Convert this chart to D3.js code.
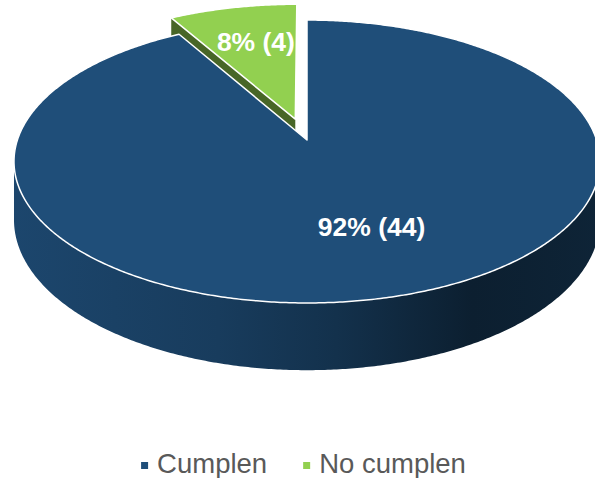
<!DOCTYPE html>
<html>
<head>
<meta charset="utf-8">
<script src="https://cdn.jsdelivr.net/npm/d3@7"></script>
<style>
  body { margin: 0; background: #fff; }
  svg { display: block; }
</style>
</head>
<body>
<div id="chart"></div>
<script>
////////////////////////////  Data  ////////////////////////////
const categories = ["Cumplen", "No cumplen"];
const counts = [44, 4];

// style / layout
const colors = ["#1F4E79", "#92D050"];
const explode = [0, 0.16]; // radial offset, fraction of radius
const labelNudge = [-4.5, 1.3]; // degrees, label angle tweak
const labelRadius = [0.61, 0.66];

const width = 595;
const height = 478;

// perspective "camera"
const cx = 307, cy = 140;   // projected pie centre
const R = 289.6, RY = 138.2; // horizontal / vertical radius
const P = 0.152;             // perspective strength
const DEPTH = 57;            // thickness

const svg = d3.select("#chart").append("svg")
  .attr("width", width)
  .attr("height", height);

const defs = svg.append("defs");

const total = d3.sum(counts);
const data = categories.map((c, i) => ({ name: c, value: counts[i], i }));

const pie = d3.pie().sort(null).value((d) => d.value);
const arcs = pie(data);

// project disk coords (u right, v toward viewer), h = 0 top / 1 bottom
function proj(u, v, h) {
  const s = 1 / (1 - P * v);
  return [cx + R * u * s, cy + RY * v * s + h * DEPTH * s];
}
function rim(a, r, o, h) {
  return proj(o[0] + r * Math.sin(a), o[1] - r * Math.cos(a), h);
}
function samples(a0, a1) {
  const n = Math.max(2, Math.ceil(Math.abs(a1 - a0) / (Math.PI / 360)));
  return d3.range(n + 1).map((k) => a0 + (a1 - a0) * k / n);
}

const line = d3.line().curve(d3.curveLinear);

// side is visible between the two silhouette angles (front half)
const aR = Math.acos(-P);
const aL = 2 * Math.PI - aR;

arcs.forEach((d) => {
  const mid = (d.startAngle + d.endAngle) / 2;
  const e = explode[d.index];
  d.mid = mid;
  d.off = [e * Math.sin(mid), -e * Math.cos(mid)];
  d.depth = d.off[1] - Math.cos(mid);
});

// back slices first
const order = arcs.slice().sort((a, b) => a.depth - b.depth);

order.forEach((d) => {
  const base = d3.color(colors[d.index]);
  const g = svg.append("g").attr("class", "slice");

  // gradient for the curved wall
  const gid = "wall" + d.index;
  const grad = defs.append("linearGradient")
    .attr("id", gid)
    .attr("gradientUnits", "userSpaceOnUse")
    .attr("x1", cx - R * 1.02).attr("x2", cx + R * 1.02)
    .attr("y1", 0).attr("y2", 0);
  [[0, 0.3], [0.35, 0.75], [0.55, 1.3], [0.78, 2.6], [1, 2.2]].forEach(([o, k]) => {
    grad.append("stop").attr("offset", o).attr("stop-color", base.darker(k));
  });

  // cut faces
  const faces = [
    { a: d.startAngle, nv: -Math.sin(d.startAngle) },
    { a: d.endAngle, nv: Math.sin(d.endAngle) },
  ];
  faces.forEach((f) => {
    if (f.nv <= 0.02) return;
    const pts = [
      proj(d.off[0], d.off[1], 0),
      rim(f.a, 1, d.off, 0),
      rim(f.a, 1, d.off, 1),
      proj(d.off[0], d.off[1], 1),
    ];
    g.append("path")
      .attr("d", line(pts) + "Z")
      .attr("fill", base.darker(2));
  });

  // curved wall
  const w0 = Math.max(d.startAngle, aR);
  const w1 = Math.min(d.endAngle, aL);
  if (w1 > w0) {
    const as = samples(w0, w1);
    const pts = as.map((a) => rim(a, 1, d.off, 0))
      .concat(as.slice().reverse().map((a) => rim(a, 1, d.off, 1)));
    g.append("path")
      .attr("d", line(pts) + "Z")
      .attr("fill", `url(#${gid})`);
  }

  // top face
  const topPts = [proj(d.off[0], d.off[1], 0)]
    .concat(samples(d.startAngle, d.endAngle).map((a) => rim(a, 1, d.off, 0)));
  g.append("path")
    .attr("d", line(topPts) + "Z")
    .attr("fill", base)
    .attr("stroke", "#fff")
    .attr("stroke-width", 1.5)
    .attr("stroke-linejoin", "round");
});

// data labels
const fmtPct = d3.format(".0%");
svg.append("g")
  .selectAll("text")
  .data(arcs)
  .join("text")
  .attr("transform", (d) => {
    const a = d.mid + labelNudge[d.index] * Math.PI / 180;
    const [x, y] = rim(a, labelRadius[d.index], d.off, 0);
    return `translate(${x},${y})`;
  })
  .attr("text-anchor", "middle")
  .attr("dy", "0.35em")
  .attr("fill", "#fff")
  .attr("font-family", "'Liberation Sans', Arial, sans-serif")
  .attr("font-weight", "bold")
  .attr("font-size", 26.5)
  .text((d) => `${fmtPct(d.value / total)} (${d.value})`);

// legend
const legend = svg.append("g").attr("class", "legend");
const items = legend.selectAll("g")
  .data(categories)
  .join("g");

items.append("rect")
  .attr("width", 7).attr("height", 7)
  .attr("y", -11)
  .attr("fill", (d, i) => colors[i]);

items.append("text")
  .attr("x", 16)
  .attr("fill", "#595959")
  .attr("font-family", "'Liberation Sans', Arial, sans-serif")
  .attr("font-size", 27.5)
  .text((d) => d);

let xPos = 0;
const itemX = [];
items.each(function () {
  itemX.push(xPos);
  const tw = d3.select(this).select("text").node().getComputedTextLength();
  xPos += 16 + tw + 36;
});
const legendW = xPos - 36;
items.attr("transform", (d, i) => `translate(${itemX[i]},0)`);
legend.attr("transform", `translate(${303.5 - legendW / 2},473)`);
</script>
</body>
</html>
